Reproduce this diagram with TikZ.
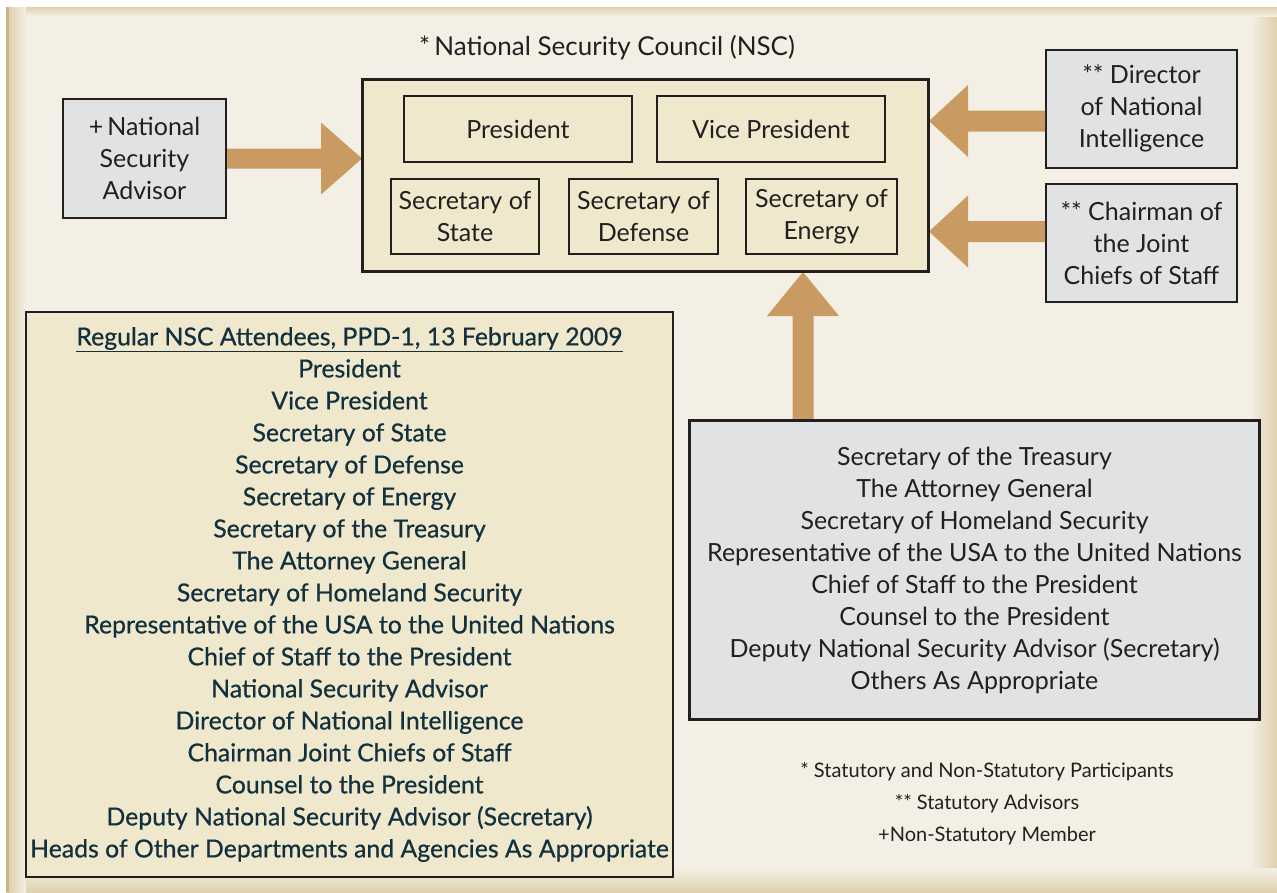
\documentclass[tikz,border=0pt]{standalone}
\usepackage{fontspec}
\setmainfont{Lato}
\newfontfamily\listfont{Lato}[FakeBold=0.6]
\usetikzlibrary{calc}
\definecolor{bgc}{HTML}{F3EFE4}
\definecolor{edgec}{HTML}{DFD0AE}
\definecolor{tanline}{HTML}{CDB283}
\definecolor{creamc}{HTML}{F0E8CD}
\definecolor{grayc}{HTML}{E1E2E4}
\definecolor{arrc}{HTML}{C99B63}
\definecolor{inkc}{HTML}{231F20}
\definecolor{listc}{HTML}{12303D}
\tikzset{
  boxline/.style={draw=inkc, line width=2pt},
  graybox/.style={boxline, fill=grayc, align=center, inner sep=0pt, text=inkc,
    font=\fontsize{25}{32}\selectfont},
  creambox/.style={boxline, fill=creamc, align=center, inner sep=0pt, text=inkc,
    font=\fontsize{25}{32}\selectfont},
  plaintext/.style={text=inkc, inner sep=0pt, font=\fontsize{26}{32}\selectfont},
  notetext/.style={text=inkc, inner sep=0pt, font=\fontsize{20}{22}\selectfont},
  blockarrow/.style={fill=arrc},
}
\begin{document}
\begin{tikzpicture}[x=1pt,y=-1pt]
\useasboundingbox (0,0) rectangle (1277,892);
% background
\fill[white] (0,0) rectangle (1277,892);
\fill[bgc] (6,7) rectangle (1277,892);
\shade[left color=bgc, right color=edgec] (1250,7) rectangle (1277,892);
\shade[top color=bgc, bottom color=edgec] (6,868) rectangle (1277,892);
\shade[top color=edgec, bottom color=bgc] (6,7) rectangle (1277,16);
\shade[left color=edgec, right color=bgc] (8,7) rectangle (26,892);
\fill[tanline] (6,7) rectangle (8.5,892);

% NSC
\node[plaintext] (title) at (607,48) {*\,National Security Council (NSC)};
\node[creambox, minimum width=565, minimum height=191] (nsc) at (645.5,175.5) {};
\node[creambox, minimum width=228, minimum height=66] (pres) at (518,129) {President};
\node[creambox, minimum width=228, minimum height=66] (vp) at (771,129) {Vice President};
\node[creambox, minimum width=148, minimum height=75] (sos) at (465,216.5) {Secretary of\\State};
\node[creambox, minimum width=149, minimum height=75] (sod) at (643.5,216.5) {Secretary of\\Defense};
\node[creambox, minimum width=151, minimum height=75] (soe) at (821.5,216.5) {Secretary of\\Energy};

% advisors
\node[graybox, minimum width=163, minimum height=119] (nsa) at (144.5,158.5) {+\,National\\Security\\Advisor};
\node[graybox, minimum width=191, minimum height=118] (dni) at (1141.5,108.5) {** Director\\of National\\Intelligence};
\node[graybox, minimum width=191, minimum height=118] (cjcs) at (1141.5,243) {** Chairman of\\the Joint\\Chiefs of Staff};

% attendee list
\node[creambox, line width=2.6pt, text=listc, minimum width=647, minimum height=565,
      font=\listfont\fontsize{24.8}{32}\selectfont] (list) at (349.5,594.5)
 {\underline{Regular NSC Attendees, PPD-1, 13 February 2009}\\
  President\\Vice President\\Secretary of State\\Secretary of Defense\\Secretary of Energy\\
  Secretary of the Treasury\\The Attorney General\\Secretary of Homeland Security\\
  Representative of the USA to the United Nations\\Chief of Staff to the President\\
  National Security Advisor\\Director of National Intelligence\\Chairman Joint Chiefs of Staff\\
  Counsel to the President\\Deputy National Security Advisor (Secretary)\\
  Heads of Other Departments and Agencies As Appropriate};

% others
\node[graybox, minimum width=569, minimum height=298] (others) at (974.5,570)
 {Secretary of the Treasury\\The Attorney General\\Secretary of Homeland Security\\
  Representative of the USA to the United Nations\\Chief of Staff to the President\\
  Counsel to the President\\Deputy National Security Advisor (Secretary)\\Others As Appropriate};

% notes
\node[notetext] (n1) at (987,772) {* Statutory and Non-Statutory Participants};
\node[notetext] (n2) at (987,804) {** Statutory Advisors};
\node[notetext] (n3) at (987,836) {+Non-Statutory Member};

% arrows
\coordinate (t1) at (nsc.west |- nsa.east);
\fill[blockarrow] ($(nsa.east)+(0,-10)$) -- ($(t1)+(-41,-10)$) -- ($(t1)+(-41,-36)$) -- (t1)
  -- ($(t1)+(-41,36)$) -- ($(t1)+(-41,10)$) -- ($(nsa.east)+(0,10)$) -- cycle;

\coordinate (s2) at ($(dni.west)+(0,12.5)$);
\coordinate (t2) at (nsc.east |- s2);
\fill[blockarrow] ($(s2)+(0,-10.5)$) -- ($(t2)+(39,-10.5)$) -- ($(t2)+(39,-36)$) -- (t2)
  -- ($(t2)+(39,36)$) -- ($(t2)+(39,10.5)$) -- ($(s2)+(0,10.5)$) -- cycle;

\coordinate (s3) at ($(cjcs.west)+(0,-11.5)$);
\coordinate (t3) at (nsc.east |- s3);
\fill[blockarrow] ($(s3)+(0,-10.5)$) -- ($(t3)+(39,-10.5)$) -- ($(t3)+(39,-36)$) -- (t3)
  -- ($(t3)+(39,36)$) -- ($(t3)+(39,10.5)$) -- ($(s3)+(0,10.5)$) -- cycle;

\coordinate (ux) at (803,0);
\coordinate (s4) at (ux |- others.north);
\coordinate (t4) at (ux |- nsc.south);
\fill[blockarrow] ($(s4)+(-10.5,0)$) -- ($(t4)+(-10.5,44)$) -- ($(t4)+(-36,44)$) -- (t4)
  -- ($(t4)+(36,44)$) -- ($(t4)+(10.5,44)$) -- ($(s4)+(10.5,0)$) -- cycle;

% redraw borders over arrows
\draw[boxline] (nsc.north west) rectangle (nsc.south east);
\draw[boxline] (others.north west) rectangle (others.south east);
\end{tikzpicture}
\end{document}
